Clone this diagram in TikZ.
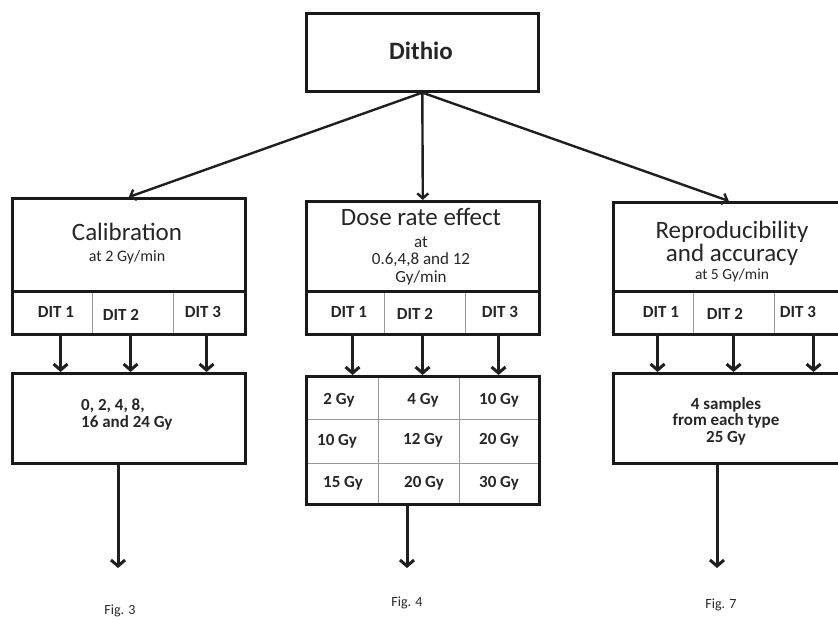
\documentclass[tikz,border=0pt]{standalone}
\usepackage{fontspec}
\setmainfont{Carlito}
\usetikzlibrary{arrows.meta}

\begin{document}
\begin{tikzpicture}[x=1pt,y=-1pt,
  box/.style={draw=black!90, line width=2.6pt, rectangle, inner sep=0pt, anchor=north west},
  cell/.style={draw=gray!80, line width=1.1pt, rectangle, inner sep=0pt, anchor=north west},
  ttl/.style={inner sep=0pt, font=\fontsize{25}{28}\selectfont, text=black!85},
  sub/.style={inner sep=0pt, font=\fontsize{17}{19}\selectfont, text=black!85},
  lbl/.style={inner sep=0pt, font=\fontsize{17}{18}\selectfont\bfseries, text=black!85},
  fig/.style={inner sep=0pt, font=\fontsize{14}{16}\selectfont, text=black!85},
  arr/.style={line width=3pt, draw=black!88, -{Straight Barb[length=6pt,width=14pt]}},
  thin arr/.style={line width=2.4pt, draw=black!88, -{Straight Barb[length=5pt,width=11pt]}},
]
\path[use as bounding box, clip] (0,0) rectangle (838,620);

% ---- top box ----
\node[box, minimum width=232pt, minimum height=78pt] (top) at (305,12) {};
\node[inner sep=0pt, font=\fontsize{25}{28}\selectfont\bfseries, text=black!85] (toptext) at (421,51) {Dithio};

% ---- column boxes ----
\node[box, minimum width=233pt, minimum height=93pt] (cal) at (11,197) {};
\node[box, minimum width=233pt, minimum height=90pt] (dose) at (305,200) {};
\node[box, minimum width=233pt, minimum height=89pt] (rep) at (612,201) {};

\node[ttl] (caltitle) at (127,232) {Calibration};
\node[sub, font=\fontsize{16}{19}\selectfont] (calsub) at (127,257) {at 2 Gy/min};

\node[ttl] (dosetitle) at (421,217) {Dose rate effect};
\node[sub] (dosesub1) at (421,242) {at};
\node[sub] (dosesub2) at (421,260) {0.6,4,8 and 12};
\node[sub] (dosesub3) at (421,278) {Gy/min};

\node[ttl] (reptitle1) at (732,232) {Reproducibility};
\node[ttl, anchor=base] (reptitle2) at (732,262) {and accuracy};
\node[sub, anchor=base, font=\fontsize{15.5}{17}\selectfont] (repsub) at (732,280) {at 5 Gy/min};

% ---- DIT rows ----
\node[cell, minimum width=81pt, minimum height=43pt] (c11) at (11,290) {};
\node[cell, minimum width=81pt, minimum height=43pt] (c12) at (92,290) {};
\node[cell, minimum width=71pt, minimum height=43pt] (c13) at (173,290) {};
\node[box, minimum width=233pt, minimum height=43pt] (calrow) at (11,290) {};
\node[lbl] (t11) at (56,312) {DIT 1};
\node[lbl] (t12) at (121,315) {DIT 2};
\node[lbl] (t13) at (203,312) {DIT 3};

\node[cell, minimum width=79pt, minimum height=43pt] (c21) at (305,290) {};
\node[cell, minimum width=81pt, minimum height=43pt] (c22) at (384,290) {};
\node[cell, minimum width=73pt, minimum height=43pt] (c23) at (465,290) {};
\node[box, minimum width=233pt, minimum height=43pt] (doserow) at (305,290) {};
\node[lbl] (t21) at (349,312) {DIT 1};
\node[lbl] (t22) at (415,314) {DIT 2};
\node[lbl] (t23) at (500,312) {DIT 3};

\node[cell, minimum width=81pt, minimum height=43pt] (c31) at (612,290) {};
\node[cell, minimum width=81pt, minimum height=43pt] (c32) at (693,290) {};
\node[cell, minimum width=71pt, minimum height=43pt] (c33) at (774,290) {};
\node[box, minimum width=233pt, minimum height=43pt] (reprow) at (612,290) {};
\node[lbl] (t31) at (661,312) {DIT 1};
\node[lbl] (t32) at (725,314) {DIT 2};
\node[lbl] (t33) at (798,312) {DIT 3};

% ---- result boxes ----
\node[box, minimum width=233pt, minimum height=90pt] (calres) at (11,372) {};
\node[lbl, align=left, anchor=west, font=\fontsize{17}{17.5}\selectfont\bfseries] (calrestext) at (81,414.5)
  {0, 2, 4, 8,\\16 and 24 Gy};

% dose grid: 3 x 3 cells
\node[cell, minimum width=73pt, minimum height=44pt] (g11) at (305,375) {};
\node[cell, minimum width=81pt, minimum height=44pt] (g12) at (378,375) {};
\node[cell, minimum width=79pt, minimum height=44pt] (g13) at (459,375) {};
\node[cell, minimum width=73pt, minimum height=44pt] (g21) at (305,419) {};
\node[cell, minimum width=81pt, minimum height=44pt] (g22) at (378,419) {};
\node[cell, minimum width=79pt, minimum height=44pt] (g23) at (459,419) {};
\node[cell, minimum width=73pt, minimum height=40pt] (g31) at (305,463) {};
\node[cell, minimum width=81pt, minimum height=40pt] (g32) at (378,463) {};
\node[cell, minimum width=79pt, minimum height=40pt] (g33) at (459,463) {};
\node[box, minimum width=233pt, minimum height=128pt] (doseres) at (305,375) {};
\node[lbl] (v11) at (339,400) {2 Gy};
\node[lbl] (v12) at (423,400) {4 Gy};
\node[lbl] (v13) at (499,400) {10 Gy};
\node[lbl] (v21) at (337,441) {10 Gy};
\node[lbl] (v22) at (423,440) {12 Gy};
\node[lbl] (v23) at (499,440) {20 Gy};
\node[lbl] (v31) at (343,483) {15 Gy};
\node[lbl] (v32) at (424,483) {20 Gy};
\node[lbl] (v33) at (499,483) {30 Gy};

\node[box, minimum width=233pt, minimum height=90pt] (repres) at (612,372) {};
\node[lbl, align=center, font=\fontsize{17}{16.5}\selectfont\bfseries] (represtext) at (726,421)
  {4 samples\\from each type\\25 Gy};

% ---- connectors from the top box ----
\draw[thin arr] (top.south) -- (cal.north);
\draw[thin arr] (top.south) -- (dose.north);
\draw[thin arr] (top.south) -- ([xshift=-1pt]rep.north);

% ---- DIT arrows ----
\path (c11.south) ++(8.5,0) coordinate (a11);
\path (c12.south) ++(-2.5,0) coordinate (a12);
\path (c13.south) ++(-2.5,0) coordinate (a13);
\path (c21.south) ++(7.5,0) coordinate (a21);
\path (c22.south) ++(-2.5,0) coordinate (a22);
\path (c23.south) ++(-3.5,0) coordinate (a23);
\path (c31.south) ++(4.5,0) coordinate (a31);
\path (c32.south) ++(-0.5,0) coordinate (a32);
\path (c33.south) ++(3.5,0) coordinate (a33);
\foreach \a/\r in {a11/calres,a12/calres,a13/calres,a21/doseres,a22/doseres,a23/doseres,a31/repres,a32/repres,a33/repres}
  \draw[arr] (\a) -- (\a |- \r.north);

% ---- outputs ----
\coordinate (e1) at (118,568);
\coordinate (e2) at (407,568);
\coordinate (e3) at (717,568);
\draw[arr] (calres.south -| e1) -- (e1);
\draw[arr] (doseres.south -| e2) -- (e2);
\draw[arr] (repres.south -| e3) -- (e3);

\node[fig] (f3) at (120,611) {Fig. 3};
\node[fig] (f4) at (407,603) {Fig. 4};
\node[fig] (f7) at (721,605) {Fig. 7};
\end{tikzpicture}
\end{document}
